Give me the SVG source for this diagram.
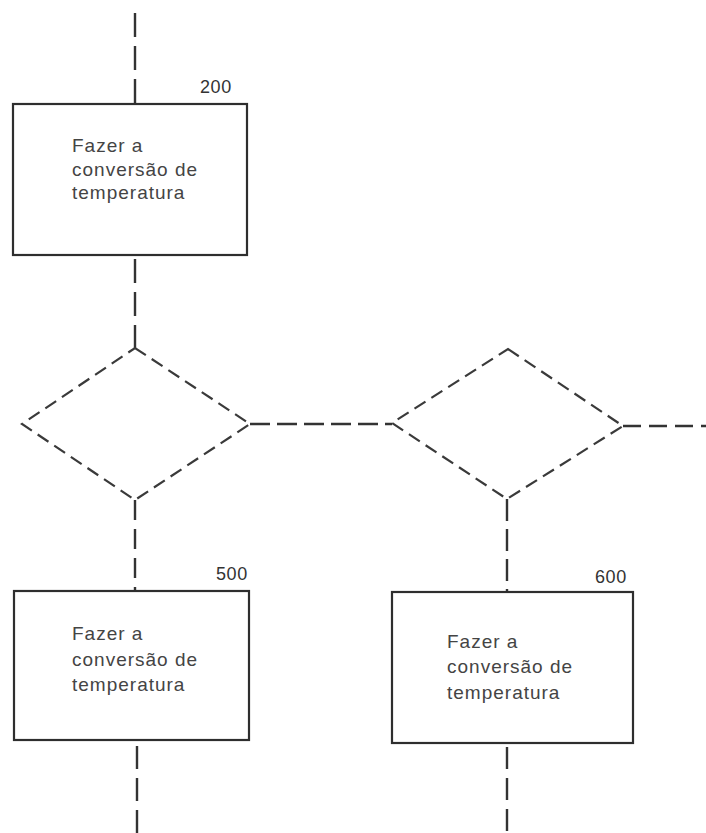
<svg xmlns="http://www.w3.org/2000/svg" width="706" height="833" viewBox="0 0 706 833">
<style>
.box{fill:none;stroke:#2e2e2e;stroke-width:2.2}
.dia{fill:none;stroke:#3a3a3a;stroke-width:2.2;stroke-dasharray:13 7;stroke-linejoin:miter}
.con{fill:none;stroke:#333;stroke-width:2.4;stroke-dasharray:24 9}
.t{font-family:"Liberation Sans",Arial,sans-serif;font-size:19px;fill:#444;letter-spacing:1px}
.n{font-family:"Liberation Sans",Arial,sans-serif;font-size:18px;fill:#333;letter-spacing:0.6px}
</style>
<rect width="706" height="833" fill="#fff"/>
<g id="connectors">
<line class="con" x1="135" y1="13" x2="135" y2="104"/>
<line class="con" x1="135" y1="259" x2="135" y2="348"/>
<line class="con" x1="135" y1="500" x2="135" y2="591" style="stroke-dasharray:20 9"/>
<line class="con" x1="137" y1="746" x2="137" y2="833" style="stroke-dasharray:23 9"/>
<line class="con" x1="250" y1="424" x2="392" y2="424" style="stroke-dasharray:20 7"/>
<line class="con" x1="507" y1="499" x2="507" y2="592" style="stroke-dasharray:22 8"/>
<line class="con" x1="507" y1="747" x2="507" y2="833" style="stroke-dasharray:22 9"/>
<line class="con" x1="623" y1="426" x2="706" y2="426" style="stroke-dasharray:18 8"/>
</g>
<g id="node200">
<rect class="box" x="13" y="104" width="234" height="151"/>
<text class="n" x="200" y="93">200</text>
<text class="t" x="72" y="152">Fazer a</text>
<text class="t" x="72" y="176">conversão de</text>
<text class="t" x="72" y="199">temperatura</text>
</g>
<g id="decision1">
<polygon class="dia" points="135,348 250,424 135,500 22,424"/>
</g>
<g id="decision2">
<polygon class="dia" points="508,349 623,426 507,499 392,423"/>
</g>
<g id="node500">
<rect class="box" x="14" y="591" width="235" height="149"/>
<text class="n" x="216" y="580">500</text>
<text class="t" x="72" y="640">Fazer a</text>
<text class="t" x="72" y="666">conversão de</text>
<text class="t" x="72" y="691">temperatura</text>
</g>
<g id="node600">
<rect class="box" x="392" y="592" width="241" height="151"/>
<text class="n" x="595" y="583">600</text>
<text class="t" x="447" y="648">Fazer a</text>
<text class="t" x="447" y="673">conversão de</text>
<text class="t" x="447" y="699">temperatura</text>
</g>
</svg>
